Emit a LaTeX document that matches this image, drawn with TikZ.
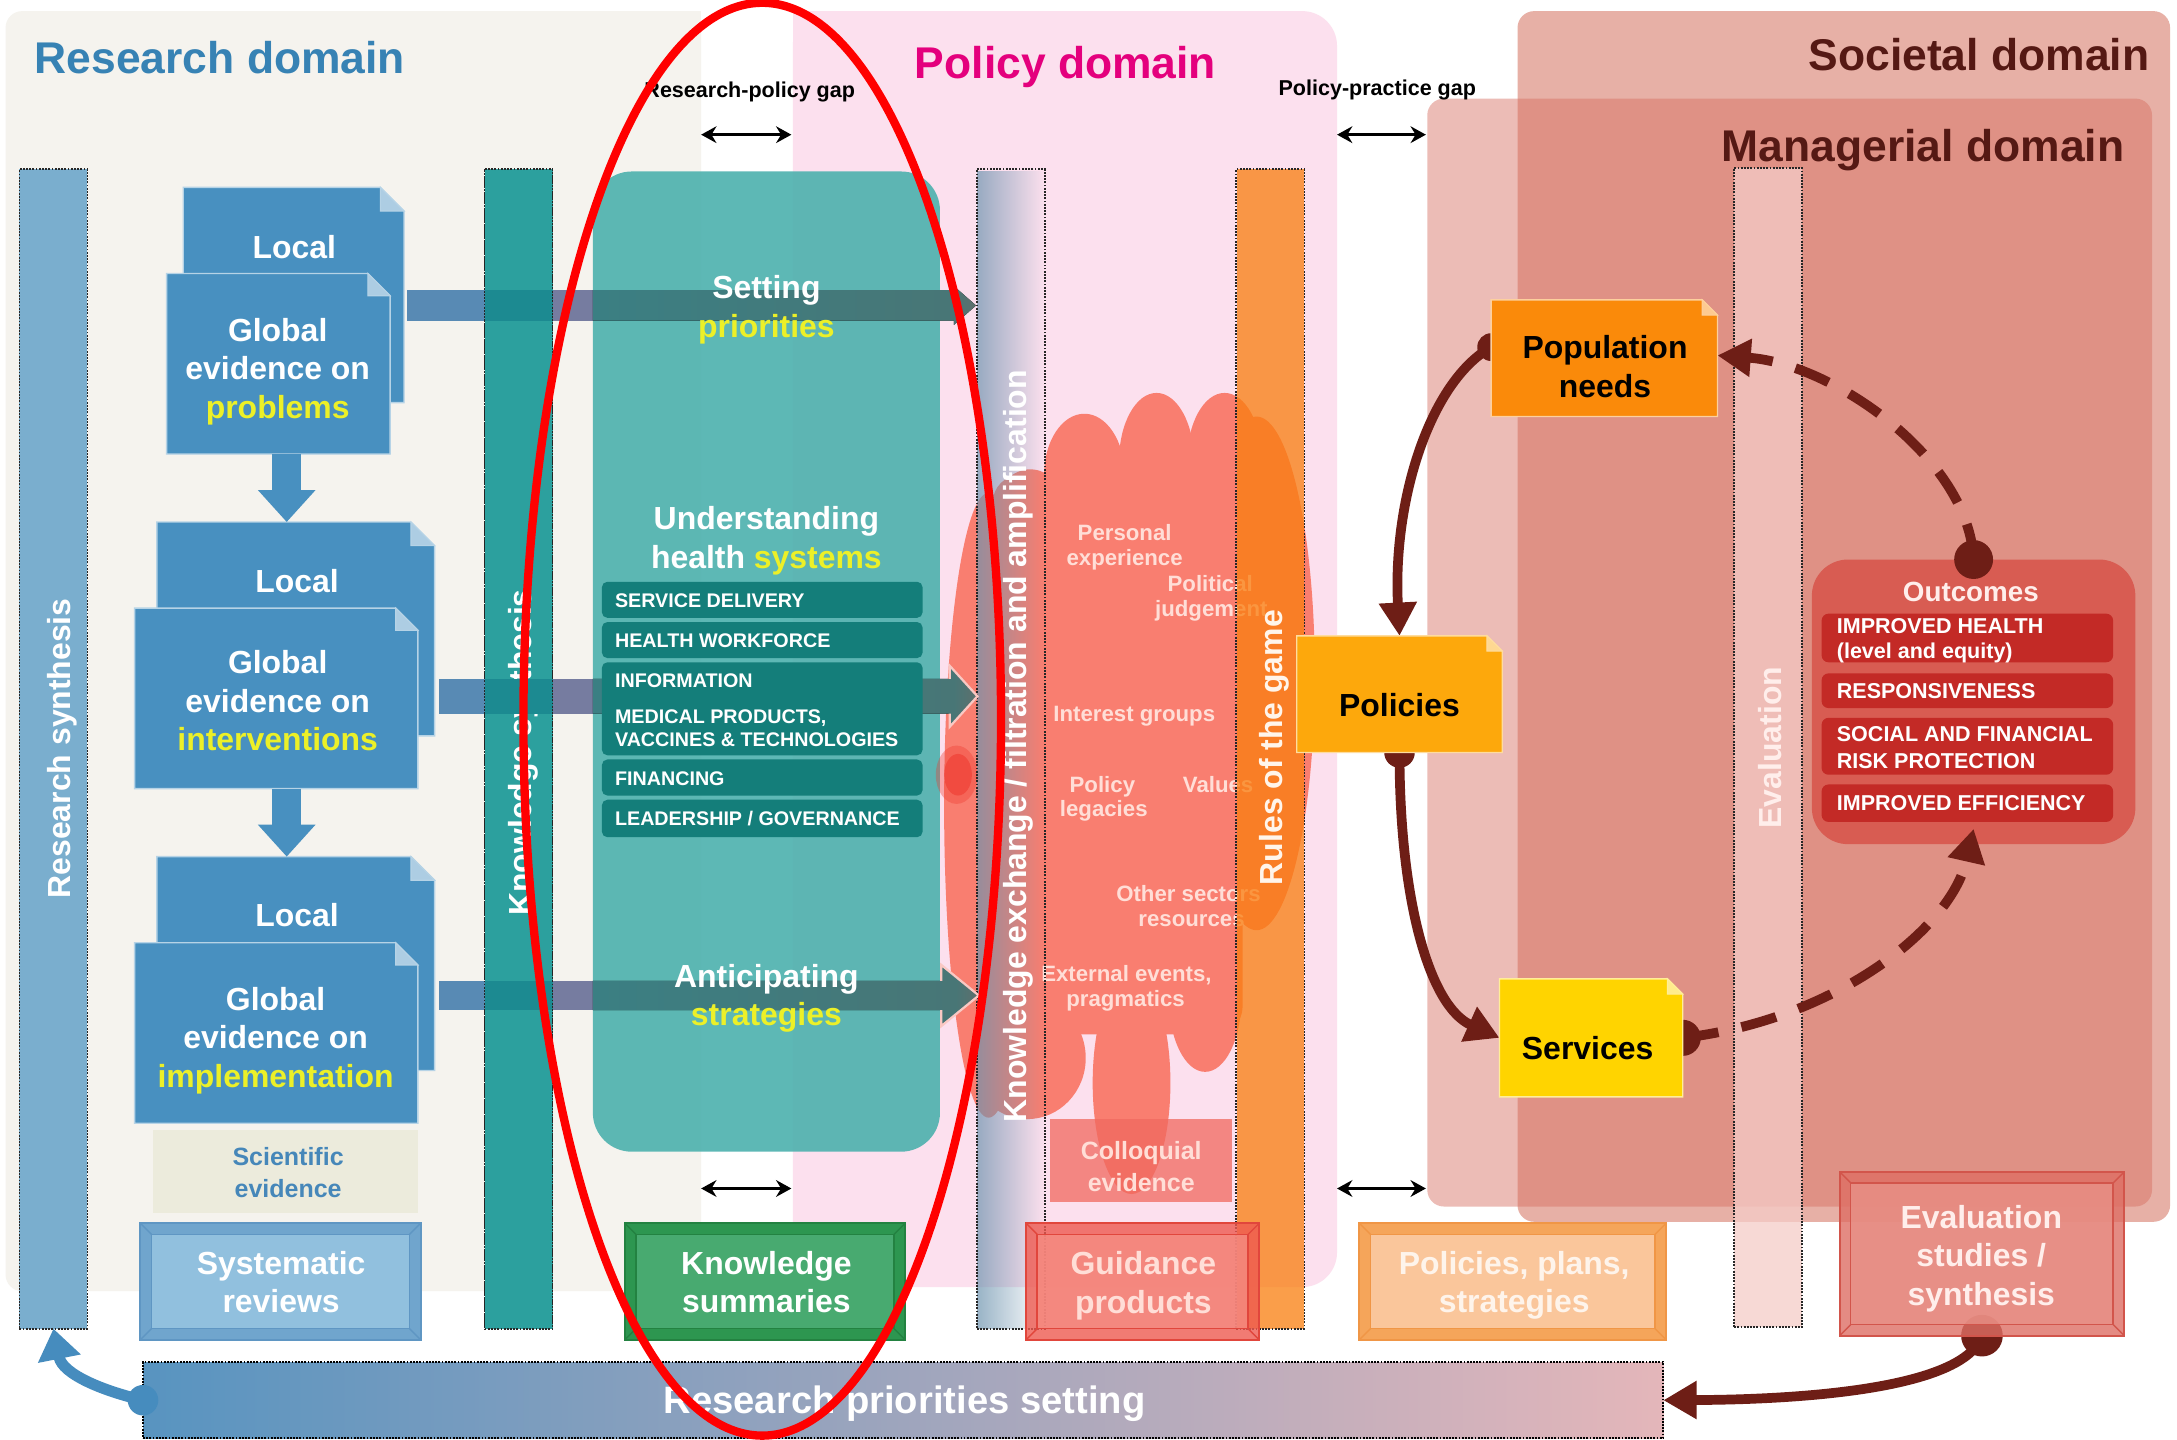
\documentclass[tikz,border=0pt]{standalone}
\usepackage{fontspec}
\setmainfont{Liberation Sans}
\usetikzlibrary{arrows.meta,calc,fadings}
\definecolor{resbg}{RGB}{245,243,238}
\definecolor{polbg}{RGB}{252,224,238}
\definecolor{socbg}{RGB}{231,176,166}
\definecolor{manbg}{RGB}{214,108,95}
\definecolor{resblue}{RGB}{55,130,180}
\definecolor{polmag}{RGB}{228,0,125}
\definecolor{darkbrown}{RGB}{85,25,20}
\definecolor{docblue}{RGB}{72,144,192}
\definecolor{hlyellow}{RGB}{236,240,40}
\definecolor{synblue}{RGB}{122,174,206}
\definecolor{synteal}{RGB}{44,160,158}
\definecolor{tealbox}{RGB}{80,178,175}
\definecolor{tealitem}{RGB}{20,126,122}
\definecolor{cloudc}{RGB}{249,126,112}
\definecolor{cloudtxt}{RGB}{255,222,215}
\definecolor{rulesC}{RGB}{249,126,14}
\definecolor{arrowbrown}{RGB}{110,30,22}
\definecolor{popor}{RGB}{250,138,10}
\definecolor{polor}{RGB}{253,168,12}
\definecolor{servy}{RGB}{255,212,0}
\definecolor{outbg}{RGB}{216,92,82}
\definecolor{outitem}{RGB}{195,42,38}
\definecolor{evalcol}{RGB}{245,205,200}
\definecolor{exgray}{RGB}{110,148,175}
\definecolor{scibg}{RGB}{236,235,220}
\definecolor{sciblue}{RGB}{70,135,185}
\definecolor{barA}{RGB}{88,138,180}
\definecolor{barB}{RGB}{28,138,145}
\definecolor{barC}{RGB}{118,124,160}
\definecolor{bt1}{RGB}{52,132,138}
\definecolor{bt2}{RGB}{72,118,118}
\definecolor{bt3}{RGB}{208,78,62}
\definecolor{headline}{RGB}{250,200,195}
\definecolor{rpsL}{RGB}{88,148,192}
\definecolor{rpsR}{RGB}{228,182,186}
\definecolor{arrowblue}{RGB}{70,140,190}
\definecolor{srband}{RGB}{112,165,205}
\definecolor{srin}{RGB}{145,192,222}
\definecolor{srline}{RGB}{95,150,195}
\definecolor{ksband}{RGB}{45,150,80}
\definecolor{ksin}{RGB}{72,170,112}
\definecolor{ksline}{RGB}{35,130,65}
\definecolor{gpband}{RGB}{238,90,80}
\definecolor{gpin}{RGB}{245,140,130}
\definecolor{gpline}{RGB}{225,70,60}
\definecolor{ppband}{RGB}{245,165,90}
\definecolor{ppin}{RGB}{250,198,155}
\definecolor{ppline}{RGB}{240,150,70}
\definecolor{evband}{RGB}{222,110,100}
\definecolor{evin}{RGB}{232,145,135}
\definecolor{evline}{RGB}{210,85,75}
\definecolor{redspot}{RGB}{238,55,45}
\definecolor{collc}{RGB}{240,105,95}
\definecolor{evtxt}{RGB}{255,238,235}
\pgfdeclarehorizontalshading{barend}{100bp}{color(0bp)=(bt1); color(72bp)=(bt2); color(90bp)=(bt3); color(100bp)=(bt3)}
\tikzfading[name=fadeR, left color=transparent!30, right color=transparent!100]

\newcommand\docbox[7]{%
 \pgfmathsetmacro\dbw{#4-#2}\pgfmathsetmacro\dbh{#5-#3}%
 \pgfmathsetmacro\dbx{(#2+#4)/2}\pgfmathsetmacro\dby{(#3+#5)/2}%
 \node[minimum width=\dbw pt, minimum height=\dbh pt] (#1) at (\dbx,\dby) {};
 \filldraw[fill=#6, draw=white!60!#6, line width=1pt] (#2,#3) -- (#4-#7,#3) -- (#4,#3+#7) -- (#4,#5) -- (#2,#5) -- cycle;
 \filldraw[fill=white!55!#6, draw=white!60!#6, line width=0.8pt] (#4-#7,#3) -- (#4-#7,#3+#7) -- (#4,#3+#7) -- cycle;
}
\newcommand\bevel[5]{%
 \fill[#2, fill opacity=#5] (#1.north west) rectangle (#1.south east);
 \fill[#3, fill opacity=#5] ($(#1.north west)+(8,8)$) rectangle ($(#1.south east)+(-8,-8)$);
 \draw[#4, line width=1pt] (#1.north west) -- ($(#1.north west)+(8,8)$) (#1.north east) -- ($(#1.north east)+(-8,8)$) (#1.south west) -- ($(#1.south west)+(8,-8)$) (#1.south east) -- ($(#1.south east)+(-8,-8)$);
 \draw[#4, line width=1pt] ($(#1.north west)+(8,8)$) rectangle ($(#1.south east)+(-8,-8)$);
 \draw[#4, line width=1.5pt] (#1.north west) rectangle (#1.south east);
}
\newcommand\cloudfill[1]{%
 \fill[#1, rounded corners=20pt] (715,342) rectangle (895,745);
 \fill[#1] (781,342) ellipse[x radius=29, y radius=44];
 \fill[#1] (833,332) ellipse[x radius=27, y radius=49];
 \fill[#1] (882,332) ellipse[x radius=27, y radius=49];
 \fill[#1] (742,380) ellipse[x radius=30, y radius=42];
 \fill[#1] (712,580) ellipse[x radius=32, y radius=225];
 \fill[#1] (905,485) ellipse[x radius=42, y radius=185];
 \fill[#1] (740,762) ellipse[x radius=42, y radius=44];
 \fill[#1] (815,780) ellipse[x radius=28, y radius=80];
 \fill[#1] (868,720) ellipse[x radius=26, y radius=52];
}
% evidence bar: #1 start x, #2 top y, #3 bottom y, #4 head base x, #5 head half height, #6 tip x
\newcommand\evbar[6]{%
 \fill[barA] (#1,#2) rectangle (349.5,#3);
 \fill[barB] (349,#2) rectangle (398.5,#3);
 \fill[barC] (398,#2) rectangle (427.5,#3);
 \fill[shading=barend] (427,#2) -- (#4,#2) -- (#4,{(#2+#3)/2-#5}) -- (#6,{(#2+#3)/2}) -- (#4,{(#2+#3)/2+#5}) -- (#4,#3) -- (427,#3) -- cycle;
}

\tikzset{
 every node/.style={inner sep=0pt, outer sep=0pt},
 colbox/.style={draw=black!85, densely dotted, line width=1.3pt, minimum width=49pt, minimum height=835pt},
 coltxt/.style={rotate=90, anchor=base, font=\fontsize{23}{27}\selectfont\bfseries},
 t23/.style={font=\fontsize{23}{27.7}\selectfont\bfseries, align=center},
 t18/.style={font=\fontsize{18}{22.8}\selectfont\bfseries, align=center},
 t16/.style={font=\fontsize{16}{18}\selectfont\bfseries, text=cloudtxt},
 t14/.style={font=\fontsize{14.2}{16.6}\selectfont\bfseries, text=white, anchor=base west},
 t15/.style={font=\fontsize{15.5}{18}\selectfont\bfseries, text=white, anchor=base west},
 domtitle/.style={font=\fontsize{32}{38}\selectfont\bfseries},
 gaplabel/.style={font=\fontsize{15.5}{18}\selectfont\bfseries, text=black, anchor=base},
 gaparrow/.style={{Stealth[length=11pt,width=12pt]}-{Stealth[length=11pt,width=12pt]}, line width=2.4pt, black},
 brownarr/.style={arrowbrown, line width=7pt, -{Triangle[length=24pt,width=26pt]}},
 browndash/.style={brownarr, dash pattern=on 26pt off 17pt},
 hsitem/.style={fill=tealitem, rounded corners=4pt, minimum width=231pt},
 ocitem/.style={fill=outitem, rounded corners=5pt, minimum width=210pt},
}

\begin{document}
\begin{tikzpicture}[x=1pt,y=-1pt]
\useasboundingbox (0,0) rectangle (1568,1037);
\fill[white] (0,0) rectangle (1568,1037);

% ---------- domain backgrounds
\fill[resbg, rounded corners=12pt] (4,8) rectangle (505,930);
\fill[resbg] (400,8) rectangle (505,930);
\fill[polbg, rounded corners=25pt] (571,8) rectangle (963,927);
\fill[polbg] (571,8) rectangle (700,927);
\fill[socbg, rounded corners=12pt] (1093,8) rectangle (1563,880);
\fill[manbg, opacity=0.45, rounded corners=12pt] (1028,71) rectangle (1550,869);

% ---------- titles and gaps
\node[domtitle, text=resblue, anchor=base west] (tres) at (25,53) {Research domain};
\node[domtitle, text=polmag, anchor=base west] (tpol) at (659,56.5) {Policy domain};
\node[domtitle, text=darkbrown, anchor=base east] (tsoc) at (1548,51) {Societal domain};
\node[domtitle, text=darkbrown, anchor=base east] (tman) at (1530,116) {Managerial domain};
\node[gaplabel] (gapA) at (540,70) {Research-policy gap};
\node[gaplabel] (gapB) at (992,69) {Policy-practice gap};
\coordinate (ga1) at (505,97); \coordinate (ga2) at (570,97);
\coordinate (gb1) at (963,97); \coordinate (gb2) at (1027,97);
\coordinate (gc1) at (505,856); \coordinate (gc2) at (570,856);
\coordinate (gd1) at (963,856); \coordinate (gd2) at (1027,856);
\draw[gaparrow] (ga1) -- (ga2);
\draw[gaparrow] (gb1) -- (gb2);
\draw[gaparrow] (gc1) -- (gc2);
\draw[gaparrow] (gd1) -- (gd2);

% ---------- research columns
\node[colbox, fill=synblue] (rs) at (38.5,539.5) {};
\node[coltxt, text=white] (rstxt) at (50.5,539) {Research synthesis};
\node[colbox, fill=synteal] (ks) at (373.5,539.5) {};
\node[coltxt, text=white] (kstxt) at (383,542) {Knowledge synthesis};

% ---------- evidence documents
\docbox{l1}{132}{135}{291}{290}{docblue}{17}
\docbox{g1}{120}{197}{281}{327}{docblue}{16}
\docbox{l2}{113}{376}{313}{530}{docblue}{17}
\docbox{g2}{97}{438}{301}{568}{docblue}{16}
\docbox{l3}{113}{617}{313}{771}{docblue}{17}
\docbox{g3}{97}{679}{301}{809}{docblue}{16}
\node[t23, text=white, anchor=base] (l1t) at (212,186) {Local};
\node[t23, text=white] (g1t) at (200,267.7) {Global\\evidence on\\\textcolor{hlyellow}{problems}};
\node[t23, text=white, anchor=base] (l2t) at (214,426.6) {Local};
\node[t23, text=white] (g2t) at (200,504.7) {Global\\evidence on\\\textcolor{hlyellow}{interventions}};
\node[t23, text=white, anchor=base] (l3t) at (214,667.4) {Local};
\node[t23, text=white] (g3t) at (198.5,749.3) {Global\\evidence on\\\textcolor{hlyellow}{implementation}};
\draw[docblue, line width=21pt, -{Triangle[length=23pt,width=40pt]}] ($(g1.south)+(6,0)$) -- ($(l2.north)+(-6.5,0)$);
\draw[docblue, line width=21pt, -{Triangle[length=23pt,width=40pt]}] ($(g2.south)+(7.5,0)$) -- ($(l3.north)+(-6.5,0)$);
\node[fill=scibg, minimum width=191pt, minimum height=60pt] (sci) at (205.5,844) {};
\node[t18, text=sciblue] (scit) at (207.5,844.7) {Scientific\\evidence};

% ---------- teal knowledge box
\node[fill=tealbox, fill opacity=0.92, rounded corners=28pt, minimum width=250pt, minimum height=706pt] (tb) at (552,476.5) {};

% ---------- policy cloud
\cloudfill{cloudc}
\fill[redspot, opacity=0.35] (689,558) ellipse[x radius=15, y radius=21];
\fill[redspot, opacity=0.55] (690,558) ellipse[x radius=10, y radius=15];
\node[t16, anchor=base] (ct1) at (810,389) {Personal};
\node[t16, anchor=base] (ct2) at (810,407) {experience};
\node[t16, anchor=base west] (ct3) at (841,426) {Political};
\node[t16, anchor=base west] (ct4) at (832,444) {judgement};
\node[t16, anchor=base] (ct5) at (817,520) {Interest groups};
\node[t16, anchor=base] (ct6) at (794,571) {Policy};
\node[t16, anchor=base] (ct7) at (795,588) {legacies};
\node[t16, anchor=base west] (ct8) at (852,571) {Values};
\node[t16, anchor=base west] (ct9) at (804,649) {Other sectors};
\node[t16, anchor=base west] (ct10) at (820,667) {resources};
\node[t16, anchor=base west] (ct11) at (750,707) {External events,};
\node[t16, anchor=base west] (ct12) at (768,725) {pragmatics};

% ---------- exchange column
\fill[exgray, path fading=fadeR, fit fading=true] (704,122) rectangle (752,957);
\node[colbox] (kx) at (728,539.5) {};
\node[coltxt, text=white] (kxtxt) at (739,537.5) {Knowledge exchange / filtration and amplification};

% ---------- rules column
\fill[rulesC, opacity=0.75] (891,122) rectangle (939,957);
\node[colbox] (rg) at (915,539.5) {};
\node[coltxt, text=white!92!orange] (rgtxt) at (924,538.5) {Rules of the game};

% ---------- horizontal evidence arrows
\evbar{293}{209}{231}{687}{14}{703}
\evbar{316}{489}{514}{684}{22}{704}
\draw[headline, line width=1.6pt, line join=miter] (684,489) -- (684,479.5) -- (704,501.5) -- (684,523.5) -- (684,514);
\evbar{316}{706.5}{727.5}{678}{22}{705}
\draw[headline, line width=1.6pt, line join=miter] (678,706.5) -- (678,695) -- (705,717) -- (678,739) -- (678,727.5);
\draw[black!85, densely dotted, line width=1.3pt] (ks.north west) -- (ks.south west) (ks.north east) -- (ks.south east);

% ---------- health system blocks
\node[hsitem, minimum height=26pt] (hs1) at (549,432) {};
\node[hsitem, minimum height=26pt] (hs2) at (549,461) {};
\node[hsitem, minimum height=67pt] (hs3) at (549,510.5) {};
\node[hsitem, minimum height=26pt] (hs4) at (549,560) {};
\node[hsitem, minimum height=27pt] (hs5) at (549,589.5) {};
\node[t14] (hs1t) at (443,437.4) {SERVICE DELIVERY};
\node[t14] (hs2t) at (443,466.2) {HEALTH WORKFORCE};
\node[t14] (hs3t) at (443,495) {INFORMATION};
\node[t14] (hs3u) at (443,521) {MEDICAL PRODUCTS,};
\node[t14] (hs3v) at (443,537.8) {VACCINES \& TECHNOLOGIES};
\node[t14] (hs4t) at (443,566) {FINANCING};
\node[t14] (hs5t) at (443,594.2) {LEADERSHIP / GOVERNANCE};
\node[t23, text=white] (tset) at (552,223) {Setting\\\textcolor{hlyellow}{priorities}};
\node[t23, text=white] (tund) at (552,389.5) {Understanding\\health \textcolor{hlyellow}{systems}};
\node[t23, text=white] (tant) at (552,719.2) {Anticipating\\\textcolor{hlyellow}{strategies}};

% ---------- colloquial evidence
\node[fill=collc, fill opacity=0.75, minimum width=131pt, minimum height=60pt] (coll) at (821.5,836) {};
\node[t18, text=cloudtxt] (collt) at (822,840) {Colloquial\\evidence};

% ---------- evaluation column
\node[colbox, fill=evalcol, fill opacity=0.75] (ev) at (1273.5,538.5) {};
\node[coltxt, text=evtxt] (evtxt) at (1283,538.5) {Evaluation};

% ---------- outcomes
\node[fill=outbg, rounded corners=26pt, minimum width=233pt, minimum height=205pt] (oc) at (1421.5,505.5) {};
\node[ocitem, minimum height=35pt] (oc1) at (1417,459.5) {};
\node[ocitem, minimum height=25pt] (oc2) at (1417,497.5) {};
\node[ocitem, minimum height=41pt] (oc3) at (1417,537.5) {};
\node[ocitem, minimum height=27pt] (oc4) at (1417,578.5) {};
\node[font=\fontsize{20}{24}\selectfont\bfseries, text=evtxt, anchor=base] (oct) at (1419.5,433.4) {Outcomes};
\node[t15] (oc1t) at (1323,456.2) {IMPROVED HEALTH};
\node[t15] (oc1u) at (1323,474.2) {(level and equity)};
\node[t15] (oc2t) at (1323,503) {RESPONSIVENESS};
\node[t15] (oc3t) at (1323,534.2) {SOCIAL AND FINANCIAL};
\node[t15] (oc3u) at (1323,553.4) {RISK PROTECTION};
\node[t15] (oc4t) at (1323,583.9) {IMPROVED EFFICIENCY};

% ---------- policy cycle arrows (drawn before the boxes)
\node[minimum width=163pt, minimum height=84pt] (pop) at (1155.5,258) {};
\node[minimum width=148pt, minimum height=84pt] (pol) at (1008,500) {};
\node[minimum width=132pt, minimum height=85pt] (serv) at (1146,747.5) {};
\fill[arrowbrown] ([yshift=8pt]pop.west) circle[radius=10];
\draw[brownarr] ([yshift=8pt]pop.west) .. controls (1030,275) and (1003,360) .. (pol.north);
\fill[arrowbrown] (pol.south) circle[radius=11];
\draw[brownarr] (pol.south) .. controls (1008,650) and (1030,725) .. (serv.west);
\fill[arrowbrown] (serv.east) circle[radius=13];
\draw[browndash] (serv.east) .. controls (1320,735) and (1405,670) .. ([yshift=11pt]oc.south);
\fill[arrowbrown] (oc.north) circle[radius=14];
\draw[browndash] (oc.north) .. controls (1418,330) and (1320,262) .. ([yshift=2pt]pop.east);

% ---------- policy documents
\docbox{popd}{1074}{216}{1237}{300}{popor}{11}
\docbox{pold}{934}{458}{1082}{542}{polor}{11}
\docbox{servd}{1080}{705}{1212}{790}{servy}{11}
\node[t23, text=black] (popt) at (1156,263.9) {Population\\needs};
\node[t23, text=black, anchor=base] (polt) at (1008,516) {Policies};
\node[t23, text=black, anchor=base] (servt) at (1143.5,763.3) {Services};

% ---------- research priorities setting bar
\node[draw=black, densely dotted, line width=1.3pt, left color=rpsL, right color=rpsR, minimum width=1095pt, minimum height=55pt] (rps) at (650.5,1008.5) {};
\node[font=\fontsize{27.5}{32}\selectfont\bfseries, text=white, anchor=base] (rpst) at (651.5,1018) {Research priorities setting};
\fill[arrowblue] (rps.west) circle[radius=11];
\draw[arrowblue, line width=8pt, -{Triangle[length=22pt,width=30pt]}] (rps.west) .. controls (75,1002) and (45,990) .. (rs.south);

% ---------- products row
\node[minimum width=202pt, minimum height=84pt] (sr) at (202,923) {};
\bevel{sr}{srband}{srin}{srline}{1}
\node[t23, text=white] (srt) at (202.5,923.5) {Systematic\\reviews};
\node[minimum width=202pt, minimum height=84pt] (ksum) at (551,923) {};
\bevel{ksum}{ksband}{ksin}{ksline}{1}
\node[t23, text=white] (ksumt) at (552,923.5) {Knowledge\\summaries};
\node[minimum width=168pt, minimum height=84pt] (gp) at (823,923) {};
\bevel{gp}{gpband}{gpin}{gpline}{0.8}
\node[t23, text=cloudtxt] (gpt) at (823.5,925.9) {Guidance\\products};
\node[minimum width=221pt, minimum height=84pt] (ppl) at (1089.5,923) {};
\bevel{ppl}{ppband}{ppin}{ppline}{1}
\node[t23, text=white!80!ppin] (pplt) at (1090.6,925.9) {Policies, plans,\\strategies};

\node[minimum width=205pt, minimum height=118pt] (evs) at (1427.5,903) {};
\fill[arrowbrown] (evs.south) circle[radius=15];
\draw[brownarr] (evs.south) .. controls (1415,1000) and (1300,1008) .. (rps.east);
\bevel{evs}{evband}{evin}{evline}{0.8}
\node[t23, text=evtxt] (evst) at (1427,906.5) {Evaluation\\studies /\\synthesis};

% ---------- red highlight ellipse
\draw[red, line width=6pt] (549,518) ellipse[x radius=172, y radius=516];
\end{tikzpicture}
\end{document}
